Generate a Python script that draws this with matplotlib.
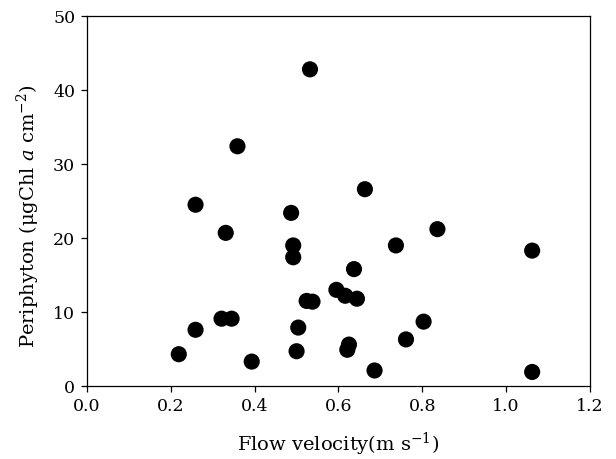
import matplotlib
matplotlib.use("Agg")
import matplotlib.pyplot as plt

velocity = [0.219, 0.259, 0.259, 0.331, 0.321, 0.345, 0.359, 0.393, 0.532, 0.487,
            0.492, 0.492, 0.504, 0.500, 0.524, 0.538, 0.595, 0.616, 0.644, 0.637,
            0.663, 0.625, 0.621, 0.686, 0.737, 0.761, 0.803, 0.836, 1.062, 1.062]
periphyton = [4.3, 7.6, 24.5, 20.7, 9.1, 9.1, 32.4, 3.3, 42.8, 23.4,
              19.0, 17.4, 7.9, 4.7, 11.5, 11.4, 13.0, 12.2, 11.8, 15.8,
              26.6, 5.6, 4.9, 2.1, 19.0, 6.3, 8.7, 21.2, 18.3, 1.9]
xticks = [0.0, 0.2, 0.4, 0.6, 0.8, 1.0, 1.2]
yticks = [0, 10, 20, 30, 40, 50]

plt.rcParams['font.family'] = ['DejaVu Serif']
plt.rcParams['mathtext.fontset'] = 'dejavuserif'

fig = plt.figure(figsize=(6.16, 4.59), dpi=100)
ax = fig.add_axes([0.1412, 0.159, 0.8166, 0.806])
ax.scatter(velocity, periphyton, s=135, c='black', edgecolors='none', zorder=3)
ax.set_xlim(0, 1.2)
ax.set_ylim(0, 50)
ax.set_xticks(xticks)
ax.set_xticklabels([f"{t:.1f}" for t in xticks])
ax.set_yticks(yticks)
ax.tick_params(direction='out', length=4.5, width=0.9, labelsize=12.5, pad=4,
               top=False, right=False)
for sp in ax.spines.values():
    sp.set_linewidth(0.9)
ax.set_xlabel(r'Flow velocity(m s$^{-1}$)', fontsize=14, va='center', ha='center')
ax.set_ylabel(r'Periphyton ($\mathrm{\mu}$gChl $a$ cm$^{-2}$)', fontsize=14,
              va='center', ha='center')
ax.xaxis.set_label_coords(0.5, -0.159)
ax.yaxis.set_label_coords(-0.117, 0.46)
fig.savefig("out.png", dpi=100)
